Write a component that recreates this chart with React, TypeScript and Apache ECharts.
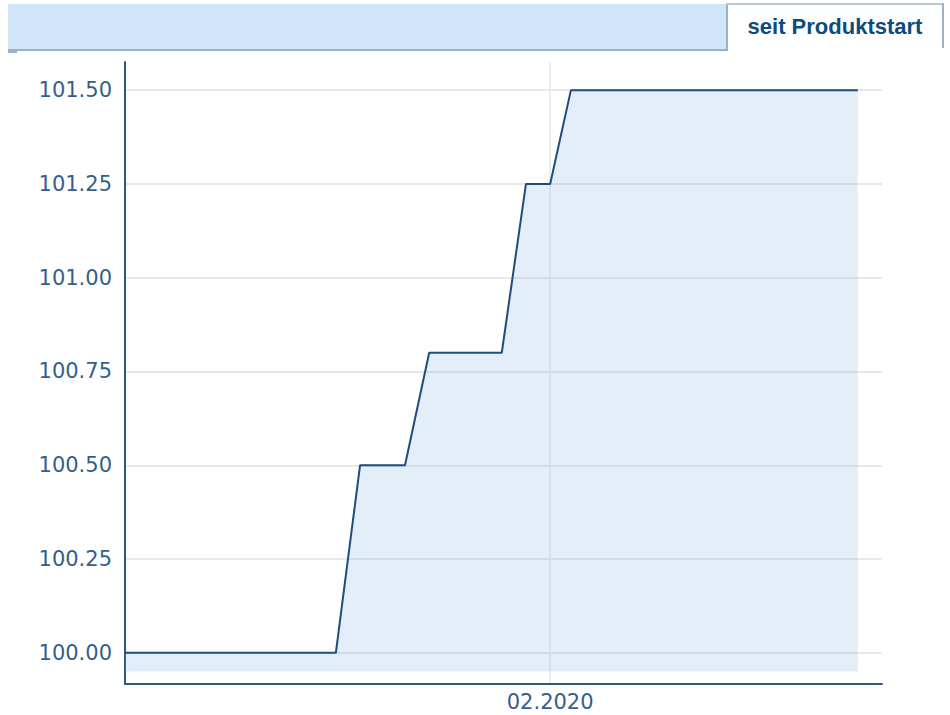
import React, { useEffect, useRef } from "react";
import * as echarts from "echarts";

// Data: dates (YYYY-MM-DD) and values of the step-up certificate
const dates = [
  "2019-10-01", "2019-12-01", "2019-12-08", "2019-12-21", "2019-12-28",
  "2020-01-18", "2020-01-25", "2020-02-01", "2020-02-07", "2020-04-30",
];
const values = [100.0, 100.0, 100.5, 100.5, 100.8, 100.8, 101.25, 101.25, 101.5, 101.5];
const yTicks = [100.0, 100.25, 100.5, 100.75, 101.0, 101.25, 101.5];
const xTickDates = ["2020-02-01"];
const xMinDate = "2019-10-01";
const xMaxDate = "2020-05-07";
const tabLabel = "seit Produktstart";

const ts = (d: string) => new Date(d + "T00:00:00Z").getTime();

export default function App() {
  const ref = useRef<HTMLDivElement>(null);
  useEffect(() => {
    if (!ref.current) return;
    const chart = echarts.init(ref.current, null, { renderer: "svg" });
    const axisColor = "#2d5886";
    const labelColor = "#345f8d";
    const gridColor = "#e8e8e8";
    const border = "#9cb0c6";
    chart.setOption({
      animation: false,
      backgroundColor: "#ffffff",
      grid: { left: 125, right: 68, top: 62, bottom: 31, containLabel: false },
      graphic: [
        { type: "rect", shape: { x: 8, y: 4, width: 719, height: 46 }, style: { fill: "#d0e6f8" }, silent: true },
        { type: "rect", shape: { x: 8, y: 49, width: 720, height: 2 }, style: { fill: border }, silent: true },
        { type: "rect", shape: { x: 8, y: 51, width: 9, height: 2 }, style: { fill: border }, silent: true },
        { type: "rect", shape: { x: 727, y: 4, width: 216, height: 46 }, style: { fill: "#ffffff" }, silent: true },
        { type: "rect", shape: { x: 726, y: 3, width: 2, height: 48 }, style: { fill: border }, silent: true },
        { type: "rect", shape: { x: 726, y: 3, width: 218, height: 2 }, style: { fill: "#b8c6d6" }, silent: true },
        { type: "rect", shape: { x: 942, y: 3, width: 2, height: 45 }, style: { fill: border }, silent: true },
        {
          type: "text",
          x: 835,
          y: 26,
          style: {
            text: tabLabel,
            fill: "#0d4b7c",
            font: "bold 22px 'Liberation Sans', Arial, sans-serif",
            align: "center",
            verticalAlign: "middle",
          },
          silent: true,
        },
      ],
      xAxis: {
        type: "value",
        min: ts(xMinDate),
        max: ts(xMaxDate),
        axisLine: { show: true, onZero: false, lineStyle: { color: axisColor, width: 2 } },
        axisTick: { show: false, customValues: xTickDates.map(ts) },
        axisLabel: {
          customValues: xTickDates.map(ts),
          color: labelColor,
          fontFamily: "'DejaVu Sans', Verdana, sans-serif",
          fontSize: 21,
          margin: 7,
          formatter: (v: number) => {
            const d = new Date(v);
            const m = String(d.getUTCMonth() + 1).padStart(2, "0");
            return m + "." + d.getUTCFullYear();
          },
        },
        splitLine: { show: true, lineStyle: { color: gridColor, width: 1.5 } },
      },
      yAxis: {
        type: "value",
        min: 99.917,
        max: 101.575,
        axisLine: { show: true, onZero: false, lineStyle: { color: axisColor, width: 2 } },
        axisTick: { show: false, customValues: yTicks },
        axisLabel: {
          customValues: yTicks,
          color: labelColor,
          fontFamily: "'DejaVu Sans', Verdana, sans-serif",
          fontSize: 21,
          margin: 13,
          formatter: (v: number) => v.toFixed(2),
        },
        splitLine: { show: true, lineStyle: { color: gridColor, width: 2 } },
      },
      series: [
        {
          type: "line",
          data: dates.map((d, i) => [ts(d), values[i]]),
          symbol: "none",
          lineStyle: { color: "#1e4d7e", width: 2 },
          areaStyle: { color: "rgba(100,160,220,0.18)", opacity: 1, origin: 99.95 },
          silent: true,
        },
      ],
    });
    return () => chart.dispose();
  }, []);
  return (
    <div
      ref={ref}
      style={{ position: "absolute", left: 0, top: 0, width: 950, height: 715 }}
    />
  );
}
